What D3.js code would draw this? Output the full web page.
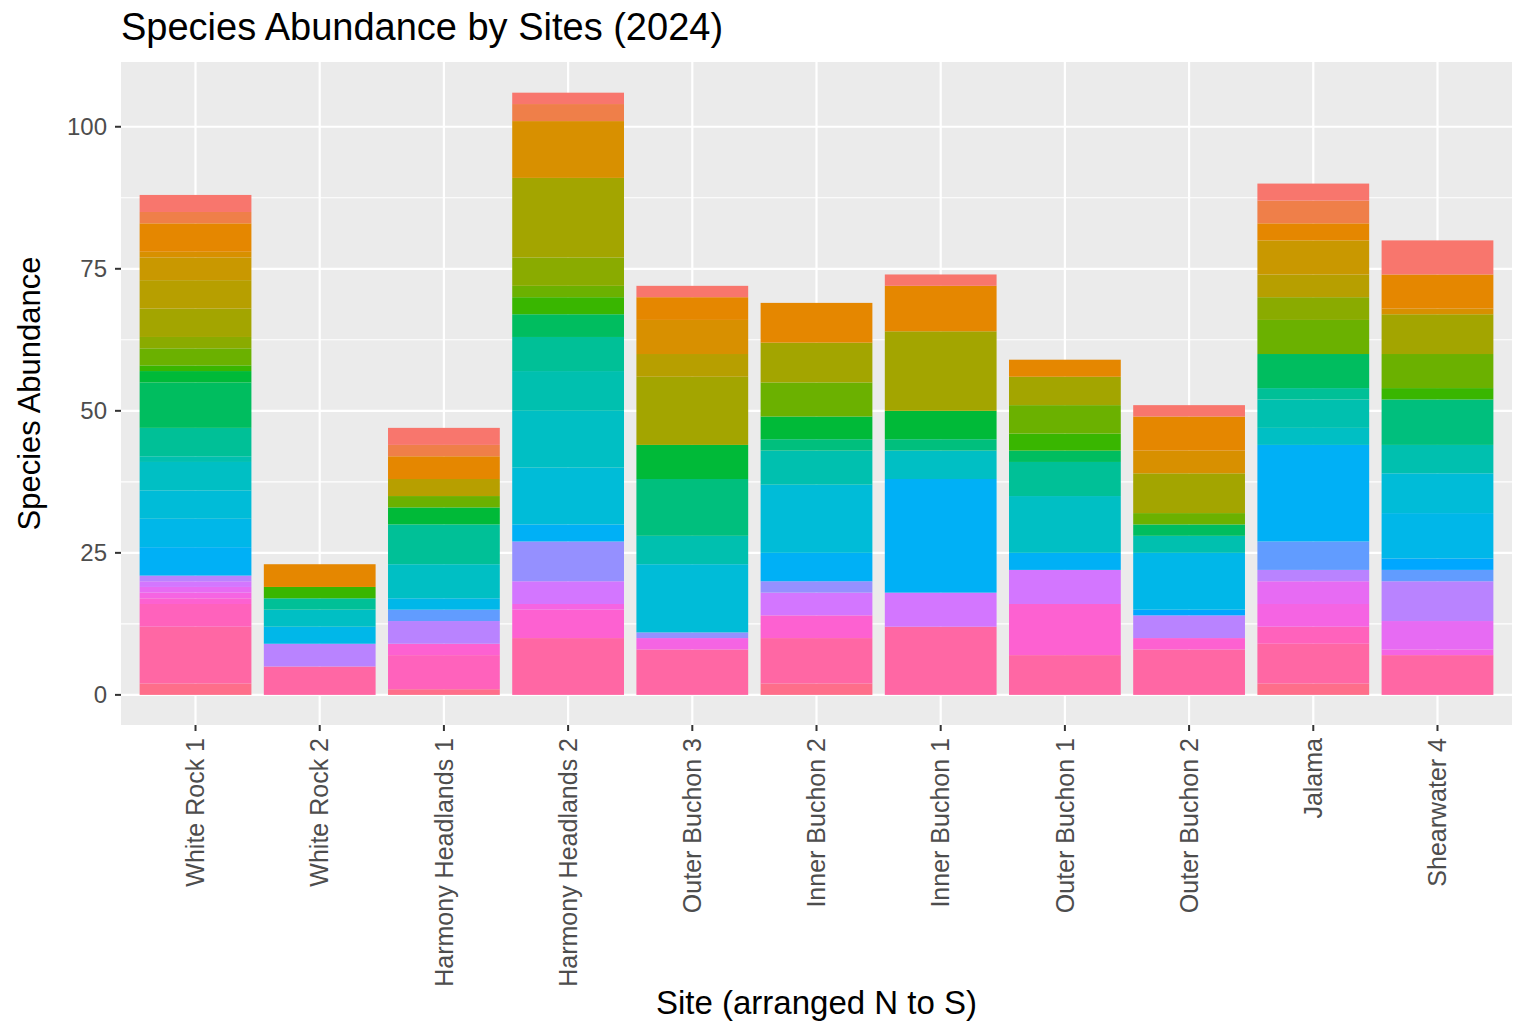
<!DOCTYPE html>
<html>
<head>
<meta charset="utf-8">
<script src="https://cdn.jsdelivr.net/npm/d3@7"></script>
<style>
body { margin: 0; background: #fff; }
text { font-family: "Liberation Sans", Arial, sans-serif; }
</style>
</head>
<body>
<svg id="chart" width="1526" height="1034"></svg>
<script>
// sites, N to S
var sites = ["White Rock 1", "White Rock 2", "Harmony Headlands 1", "Harmony Headlands 2",
    "Outer Buchon 3", "Inner Buchon 2", "Inner Buchon 1", "Outer Buchon 1",
    "Outer Buchon 2", "Jalama", "Shearwater 4"];

// species (factor levels, first one is stacked on top)
var species = d3.range(30).map(function(i) { return "Species " + (i + 1); });

// counts per site: {species index: count}
var counts = [
    {29:2, 28:10, 27:4, 26:1, 25:1, 24:1, 23:1, 22:1, 18:5, 17:5, 16:5, 15:5, 14:1, 13:5, 11:8, 10:2, 9:1, 8:3, 7:2, 6:5, 5:5, 4:4, 3:1, 2:5, 1:2, 0:3},
    {28:5, 22:4, 17:3, 15:3, 13:2, 9:2, 2:4},
    {29:1, 27:6, 26:2, 22:4, 20:2, 17:2, 15:6, 13:7, 10:3, 8:2, 5:3, 2:4, 1:2, 0:3},
    {28:10, 26:5, 25:1, 23:4, 21:7, 18:3, 16:10, 15:10, 14:7, 13:6, 11:4, 9:3, 8:2, 7:5, 6:14, 3:10, 1:3, 0:2},
    {28:8, 25:2, 21:1, 16:12, 14:5, 12:10, 10:6, 6:12, 5:4, 3:6, 2:4, 0:2},
    {29:2, 28:8, 26:4, 23:4, 21:2, 18:5, 16:12, 14:6, 12:2, 10:4, 8:6, 6:7, 2:7},
    {28:12, 23:6, 18:20, 15:5, 12:2, 10:5, 6:14, 2:8, 0:2},
    {28:7, 26:9, 23:6, 18:3, 15:10, 13:6, 11:2, 9:3, 8:5, 6:5, 2:3},
    {28:8, 26:2, 22:4, 19:1, 17:10, 14:3, 11:2, 8:2, 6:7, 3:4, 2:6, 0:2},
    {29:2, 28:7, 27:3, 25:4, 24:4, 22:2, 20:5, 18:17, 15:3, 14:5, 13:2, 11:6, 8:6, 7:4, 5:4, 4:6, 2:3, 1:4, 0:3},
    {28:7, 25:1, 24:5, 22:7, 20:2, 19:2, 17:8, 16:7, 14:5, 12:8, 9:2, 8:6, 6:7, 3:1, 2:6, 0:6}
];

var yTicks = [0, 25, 50, 75, 100];

var svg = d3.select("#chart");
var margin = {left: 121, right: 14, top: 62, bottom: 309};
var W = 1526, H = 1034;

var x = d3.scaleBand().domain(sites)
    .range([margin.left, W - margin.right]).paddingInner(0.1).paddingOuter(0.15);
var y = d3.scaleLinear().domain([-5.3, 111.4]).range([H - margin.bottom, margin.top]);

// ggplot hue palette: polar CIELUV, c=100, l=65
function hclLuv(h, c, l) {
    var hr = h * Math.PI / 180, u = c * Math.cos(hr), v = c * Math.sin(hr);
    var Xn = 95.047, Yn = 100, Zn = 108.883;
    var un = 4 * Xn / (Xn + 15 * Yn + 3 * Zn), vn = 9 * Yn / (Xn + 15 * Yn + 3 * Zn);
    var Y = l > 8 ? Yn * Math.pow((l + 16) / 116, 3) : Yn * l / 903.3;
    var up = u / (13 * l) + un, vp = v / (13 * l) + vn;
    var X = Y * 9 * up / (4 * vp), Z = Y * (12 - 3 * up - 20 * vp) / (4 * vp);
    X /= 100; Y /= 100; Z /= 100;
    var r = 3.2406 * X - 1.5372 * Y - 0.4986 * Z;
    var g = -0.9689 * X + 1.8758 * Y + 0.0415 * Z;
    var b = 0.0557 * X - 0.2040 * Y + 1.0570 * Z;
    function gam(c) {
        c = c <= 0.0031308 ? 12.92 * c : 1.055 * Math.pow(c, 1 / 2.4) - 0.055;
        return Math.round(Math.max(0, Math.min(1, c)) * 255);
    }
    return d3.rgb(gam(r), gam(g), gam(b)).toString();
}
var color = d3.scaleOrdinal().domain(species)
    .range(species.map(function(d, i) { return hclLuv(15 + 360 * i / species.length, 100, 65); }));

svg.append("rect").attr("x", margin.left).attr("y", margin.top)
    .attr("width", W - margin.left - margin.right).attr("height", H - margin.top - margin.bottom)
    .attr("fill", "#EBEBEB");

// minor grid
d3.range(12.5, 111, 25).forEach(function(v) {
    svg.append("line").attr("x1", margin.left).attr("x2", W - margin.right)
        .attr("y1", y(v)).attr("y2", y(v)).attr("stroke", "#fff").attr("stroke-width", 1.1);
});
yTicks.forEach(function(v) {
    svg.append("line").attr("x1", margin.left).attr("x2", W - margin.right)
        .attr("y1", y(v)).attr("y2", y(v)).attr("stroke", "#fff").attr("stroke-width", 2.2);
});
sites.forEach(function(s) {
    var cx = x(s) + x.bandwidth() / 2;
    svg.append("line").attr("x1", cx).attr("x2", cx)
        .attr("y1", margin.top).attr("y2", H - margin.bottom).attr("stroke", "#fff").attr("stroke-width", 2.2);
});

// stacked bars: last species at bottom
var rows = sites.map(function(s, k) {
    var r = {site: s};
    species.forEach(function(sp, i) { r[sp] = counts[k][i] || 0; });
    return r;
});
var stack = d3.stack().keys(species.slice().reverse());
var layers = stack(rows);

svg.append("g").selectAll("g").data(layers).join("g")
    .attr("fill", function(d) { return color(d.key); })
    .selectAll("rect").data(function(d) { return d; }).join("rect")
    .attr("x", function(d) { return x(d.data.site); })
    .attr("width", x.bandwidth())
    .attr("y", function(d) { return y(d[1]); })
    .attr("height", function(d) { return y(d[0]) - y(d[1]); });

// y axis
var gy = svg.append("g");
yTicks.forEach(function(v) {
    gy.append("line").attr("x1", margin.left - 6).attr("x2", margin.left)
        .attr("y1", y(v)).attr("y2", y(v)).attr("stroke", "#333").attr("stroke-width", 2);
    gy.append("text").attr("x", margin.left - 14).attr("y", y(v)).attr("dy", "0.35em")
        .attr("text-anchor", "end").attr("font-size", 24).attr("fill", "#4D4D4D").text(v);
});

// x axis
var gx = svg.append("g");
sites.forEach(function(s) {
    var cx = x(s) + x.bandwidth() / 2, by = H - margin.bottom;
    gx.append("line").attr("x1", cx).attr("x2", cx).attr("y1", by).attr("y2", by + 6)
        .attr("stroke", "#333").attr("stroke-width", 2);
    gx.append("text").attr("transform", "translate(" + cx + "," + (by + 13) + ") rotate(-90)")
        .attr("dy", "0.35em").attr("text-anchor", "end").attr("font-size", 25)
        .attr("fill", "#4D4D4D").text(s);
});

svg.append("text").attr("x", margin.left).attr("y", 40).attr("font-size", 38)
    .attr("fill", "#000").text("Species Abundance by Sites (2024)");
svg.append("text").attr("x", (margin.left + W - margin.right) / 2).attr("y", 1014)
    .attr("text-anchor", "middle").attr("font-size", 33).text("Site (arranged N to S)");
svg.append("text").attr("transform", "translate(40," + ((margin.top + H - margin.bottom) / 2) + ") rotate(-90)")
    .attr("text-anchor", "middle").attr("font-size", 31).text("Species Abundance");
</script>
</body>
</html>
